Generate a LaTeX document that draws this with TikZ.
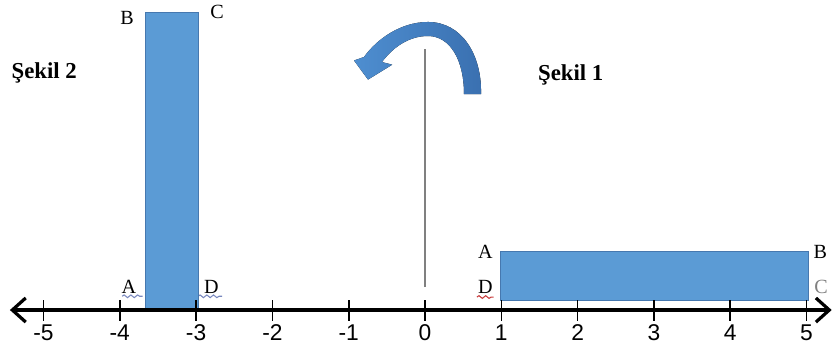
\documentclass[tikz,border=0pt]{standalone}
\usepackage{fontspec}
\setmainfont{Liberation Serif}
\setsansfont{Liberation Sans}
\usepackage{xcolor}
\usepackage{tikz}
\usetikzlibrary{arrows.meta,positioning,decorations.pathmorphing}
\definecolor{barblue}{RGB}{91,155,213}
\definecolor{bardark}{RGB}{70,120,175}
\definecolor{turnlight}{RGB}{78,142,208}
\definecolor{turnblue}{RGB}{58,112,176}
\definecolor{squigblue}{RGB}{120,135,190}
\definecolor{squigred}{RGB}{200,60,60}

\begin{document}
\begin{tikzpicture}[
      bar/.style={draw=bardark, line width=0.4pt, fill=barblue, inner sep=0pt, anchor=south west},
      corner/.style={inner sep=0pt, font=\fontsize{7.5}{8}\selectfont},
      title/.style={inner sep=0pt, font=\fontsize{8.5}{10}\selectfont\bfseries},
      num/.style={inner sep=0pt, font=\fontsize{8.5}{10}\selectfont\sffamily},
      squig/.style={decorate, decoration={snake, amplitude=0.5pt, segment length=2.5pt}, line width=0.4pt},
      axis/.style={line width=1.2pt, {Straight Barb[length=5pt,width=9pt,line width=1.2pt]}-{Straight Barb[length=5pt,width=9pt,line width=1.2pt]}}
    ]
      \useasboundingbox (-5.57,-0.485) rectangle (5.36,4.063);

      % spell-check marks
      \draw[squig, squigblue] (-3.97,0.18) -- (-3.70,0.18);
      \draw[squig, squigblue] (-2.975,0.18) -- (-2.66,0.18);
      \draw[squig, squigred] (0.68,0.17) -- (0.90,0.17);

      % the two bars
      \node[bar, minimum width=0.696cm, minimum height=3.89cm] (tall) at (-3.676,0) {};
      \node[bar, minimum width=4.04cm, minimum height=0.64cm] (flat) at (0.983,0.118) {};

      % number line
      \draw[axis] (-5.44,0) -- (5.33,0);
      \foreach \i in {-5,...,5} {
        \draw[line width=0.6pt] (\i,0.13) -- (\i,-0.15);
        \node[num] (n\i) at (\i,-0.30) {\i};
      }

      % rotation centre and turn arrow
      \draw[gray, line width=0.5pt] (0,0.30) -- (0,3.42);
      \fill[left color=turnlight, right color=turnblue]
        (0.734,2.831) .. controls (0.747,3.342) and (0.485,3.775) .. (0.039,3.775)
        .. controls (-0.328,3.775) and (-0.642,3.538) .. (-0.799,3.316)
        -- (-0.930,3.270) -- (-0.747,3.020) -- (-0.430,3.215) -- (-0.564,3.250)
        .. controls (-0.406,3.460) and (-0.197,3.591) .. (0.039,3.591)
        .. controls (0.328,3.591) and (0.511,3.277) .. (0.511,2.831) -- cycle;

      % labels
      \node[title] (sekil2) at (-4.99,3.106) {Şekil 2};
      \node[title] (sekil1) at (1.91,3.08) {Şekil 1};
      \node[corner] (tB) at (-3.906,3.827) {B};
      \node[corner] (tC) at (-2.726,3.906) {C};
      \node[corner] (tA) at (-3.88,0.30) {A};
      \node[corner] (tD) at (-2.80,0.30) {D};
      \node[corner] (fA) at (0.79,0.76) {A};
      \node[corner] (fD) at (0.79,0.30) {D};
      \node[corner] (fB) at (5.18,0.76) {B};
      \node[corner, text=gray] (fC) at (5.19,0.30) {C};
    \end{tikzpicture}
\end{document}
